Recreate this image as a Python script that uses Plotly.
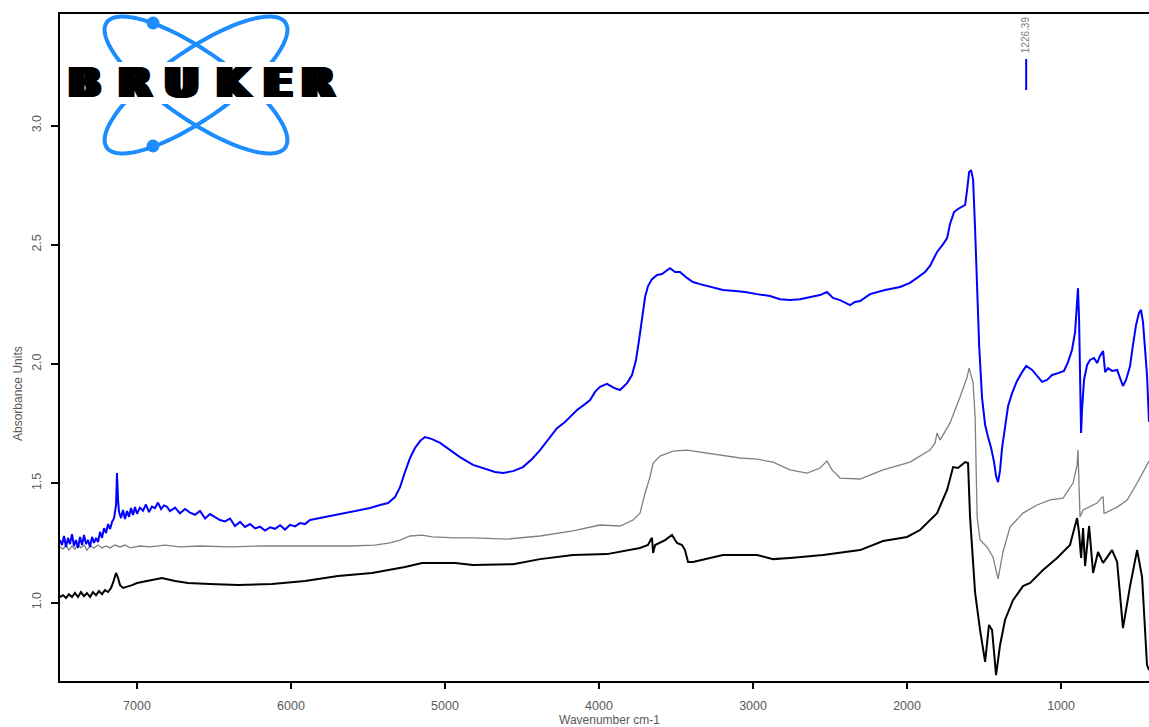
import math
import plotly.graph_objects as go

# ---- spectra: wavenumber (cm-1) and absorbance for each sample ----
blue_wn = [7500, 7487, 7474, 7461, 7448, 7435, 7422, 7409, 7396, 7383, 7370, 7357, 7344, 7331, 7318,
           7305, 7292, 7279, 7266, 7253, 7240, 7227, 7214, 7201, 7188, 7175, 7162, 7149, 7136, 7130,
           7123, 7117, 7104, 7091, 7078, 7065, 7052, 7039, 7026, 7013, 7000, 6981, 6961, 6942, 6922,
           6903, 6883, 6864, 6844, 6825, 6805, 6786, 6753, 6721, 6688, 6656, 6623, 6591, 6558, 6526,
           6494, 6461, 6429, 6396, 6364, 6331, 6299, 6266, 6234, 6201, 6169, 6136, 6104, 6071, 6039,
           6006, 5974, 5942, 5909, 5877, 5812, 5747, 5682, 5617, 5552, 5487, 5422, 5370, 5325, 5292,
           5260, 5227, 5195, 5162, 5130, 5084, 5032, 4968, 4903, 4818, 4740, 4675, 4623, 4558, 4494,
           4435, 4383, 4331, 4273, 4221, 4143, 4091, 4058, 4026, 3994, 3948, 3903, 3864, 3818, 3786,
           3760, 3740, 3721, 3701, 3682, 3656, 3623, 3591, 3565, 3539, 3506, 3474, 3429, 3390, 3344,
           3279, 3195, 3116, 3052, 2974, 2890, 2825, 2760, 2695, 2630, 2565, 2520, 2481, 2435, 2403,
           2370, 2338, 2305, 2240, 2143, 2045, 1981, 1935, 1883, 1851, 1805, 1766, 1740, 1721, 1695,
           1669, 1643, 1623, 1610, 1597, 1584, 1571, 1558, 1545, 1532, 1513, 1493, 1474, 1454, 1435,
           1422, 1409, 1396, 1383, 1364, 1344, 1318, 1286, 1253, 1226, 1188, 1156, 1123, 1091, 1058,
           1019, 981, 955, 929, 909, 896, 890, 883, 877, 870, 864, 851, 831, 812, 786,
           766, 747, 727, 714, 695, 669, 636, 617, 598, 578, 552, 533, 513, 494, 481,
           468, 455, 442, 429]
blue_abs = [1.262, 1.241, 1.279, 1.233, 1.271, 1.245, 1.287, 1.237, 1.262, 1.229, 1.275, 1.241, 1.283, 1.245, 1.262,
            1.233, 1.275, 1.250, 1.271, 1.254, 1.296, 1.271, 1.312, 1.291, 1.329, 1.308, 1.338, 1.354, 1.409, 1.543,
            1.430, 1.380, 1.354, 1.388, 1.350, 1.384, 1.359, 1.396, 1.367, 1.400, 1.372, 1.398, 1.385, 1.411, 1.379,
            1.402, 1.396, 1.419, 1.392, 1.407, 1.401, 1.383, 1.398, 1.374, 1.392, 1.377, 1.368, 1.384, 1.352, 1.371,
            1.358, 1.346, 1.340, 1.352, 1.321, 1.338, 1.317, 1.329, 1.311, 1.318, 1.302, 1.315, 1.309, 1.324, 1.306,
            1.326, 1.319, 1.333, 1.329, 1.346, 1.354, 1.363, 1.371, 1.380, 1.388, 1.396, 1.409, 1.417, 1.442, 1.484,
            1.547, 1.606, 1.648, 1.677, 1.694, 1.685, 1.669, 1.639, 1.610, 1.577, 1.560, 1.547, 1.543, 1.551, 1.568,
            1.602, 1.639, 1.681, 1.731, 1.757, 1.807, 1.832, 1.849, 1.883, 1.904, 1.917, 1.900, 1.891, 1.920, 1.954,
            2.017, 2.101, 2.193, 2.281, 2.327, 2.356, 2.373, 2.377, 2.390, 2.402, 2.386, 2.386, 2.361, 2.344, 2.335,
            2.323, 2.310, 2.306, 2.302, 2.293, 2.285, 2.272, 2.268, 2.272, 2.281, 2.289, 2.302, 2.277, 2.268, 2.256,
            2.247, 2.260, 2.264, 2.293, 2.310, 2.323, 2.340, 2.361, 2.386, 2.411, 2.470, 2.503, 2.528, 2.587, 2.637,
            2.650, 2.658, 2.667, 2.730, 2.805, 2.813, 2.772, 2.562, 2.268, 2.080, 1.858, 1.744, 1.694, 1.648, 1.589,
            1.530, 1.505, 1.555, 1.648, 1.744, 1.824, 1.878, 1.929, 1.966, 1.992, 1.975, 1.950, 1.925, 1.933, 1.954,
            1.962, 1.971, 2.008, 2.059, 2.134, 2.268, 2.318, 2.185, 1.933, 1.711, 1.807, 1.933, 1.996, 2.017, 2.025,
            2.004, 2.034, 2.055, 1.966, 1.983, 1.971, 1.975, 1.941, 1.908, 1.933, 1.992, 2.080, 2.164, 2.214, 2.227,
            2.176, 2.080, 1.954, 1.757]

gray_wn = [7500, 7480, 7461, 7442, 7422, 7403, 7383, 7364, 7344, 7325, 7305, 7279, 7253, 7227, 7201,
           7175, 7143, 7110, 7078, 7045, 6981, 6916, 6818, 6721, 6591, 6396, 6201, 6006, 5812, 5617,
           5455, 5357, 5292, 5227, 5149, 5084, 4935, 4818, 4597, 4383, 4169, 3994, 3864, 3779, 3734,
           3701, 3669, 3649, 3604, 3519, 3429, 3299, 3084, 2974, 2870, 2760, 2649, 2565, 2520, 2487,
           2435, 2305, 2156, 1981, 1851, 1818, 1805, 1786, 1721, 1656, 1610, 1597, 1571, 1558, 1545,
           1526, 1481, 1442, 1409, 1377, 1331, 1247, 1156, 1071, 987, 922, 896, 890, 883, 877,
           857, 766, 734, 727, 721, 714, 636, 571, 506, 429]
gray_abs = [1.233, 1.224, 1.241, 1.220, 1.237, 1.224, 1.245, 1.229, 1.241, 1.220, 1.237, 1.229, 1.241, 1.229, 1.237,
            1.229, 1.241, 1.233, 1.241, 1.229, 1.237, 1.233, 1.241, 1.233, 1.237, 1.233, 1.237, 1.237, 1.237, 1.237,
            1.241, 1.250, 1.262, 1.279, 1.283, 1.275, 1.271, 1.271, 1.266, 1.279, 1.300, 1.325, 1.321, 1.346, 1.375,
            1.459, 1.526, 1.585, 1.614, 1.635, 1.639, 1.627, 1.606, 1.601, 1.589, 1.556, 1.543, 1.564, 1.593, 1.556,
            1.522, 1.518, 1.556, 1.589, 1.639, 1.669, 1.711, 1.681, 1.753, 1.862, 1.945, 1.983, 1.920, 1.778, 1.359,
            1.262, 1.233, 1.191, 1.099, 1.212, 1.317, 1.375, 1.409, 1.430, 1.438, 1.501, 1.576, 1.639, 1.514, 1.359,
            1.388, 1.417, 1.442, 1.442, 1.375, 1.375, 1.400, 1.430, 1.501, 1.593]

black_wn = [7500, 7480, 7461, 7442, 7422, 7403, 7383, 7364, 7344, 7325, 7305, 7286, 7266, 7247, 7227,
            7208, 7188, 7169, 7156, 7143, 7136, 7123, 7110, 7091, 7065, 7032, 7000, 6968, 6916, 6838,
            6753, 6669, 6526, 6344, 6123, 5909, 5695, 5474, 5260, 5149, 4935, 4818, 4558, 4383, 4169,
            3948, 3734, 3682, 3662, 3656, 3649, 3636, 3571, 3526, 3506, 3494, 3461, 3442, 3422, 3390,
            3279, 3195, 2974, 2870, 2760, 2546, 2305, 2156, 2000, 1916, 1805, 1740, 1701, 1669, 1623,
            1604, 1591, 1558, 1526, 1493, 1468, 1448, 1422, 1396, 1364, 1312, 1247, 1201, 1117, 1026,
            942, 896, 883, 870, 857, 844, 818, 792, 760, 727, 669, 636, 598, 552, 506,
            474, 442, 429]
black_abs = [1.023, 1.031, 1.019, 1.035, 1.023, 1.040, 1.023, 1.044, 1.027, 1.040, 1.023, 1.044, 1.031, 1.048, 1.035,
             1.052, 1.044, 1.061, 1.082, 1.111, 1.124, 1.103, 1.073, 1.061, 1.065, 1.073, 1.082, 1.086, 1.094, 1.103,
             1.090, 1.082, 1.078, 1.073, 1.078, 1.090, 1.111, 1.124, 1.149, 1.166, 1.166, 1.157, 1.161, 1.182, 1.199,
             1.203, 1.229, 1.241, 1.266, 1.271, 1.208, 1.241, 1.262, 1.283, 1.262, 1.250, 1.241, 1.220, 1.170, 1.170,
             1.187, 1.199, 1.199, 1.182, 1.187, 1.199, 1.220, 1.258, 1.275, 1.304, 1.375, 1.472, 1.568, 1.564, 1.589,
             1.585, 1.359, 1.040, 0.885, 0.751, 0.906, 0.885, 0.696, 0.822, 0.927, 1.010, 1.069, 1.082, 1.136, 1.187,
             1.241, 1.354, 1.291, 1.187, 1.312, 1.153, 1.321, 1.124, 1.212, 1.166, 1.220, 1.170, 0.893, 1.069, 1.220,
             1.107, 0.738, 0.717]

x_ticks = [7000, 6000, 5000, 4000, 3000, 2000, 1000]
y_ticks = [1.0, 1.5, 2.0, 2.5, 3.0]
y_tick_text = ["1.0", "1.5", "2.0", "2.5", "3.0"]

peak_wn = 1226.39
peak_label = "1226.39"
peak_marker = [3.149, 3.279]

x_range = [7500, 429]
y_range = [0.671, 3.4675]

x_title = "Wavenumber cm-1"
y_title = "Absorbance Units"
logo_text = "BRUKER"

# ---- page geometry ----
W, H = 1149, 727
ML, MR, MT, MB = 60, 0, 14, 46
PW, PH = W - ML - MR, H - MT - MB

TICK_FONT = dict(family="Liberation Sans, Arial, sans-serif", size=12.5, color="#5a5a5a")
TITLE_FONT = dict(family="Liberation Sans, Arial, sans-serif", size=12, color="#5a5a5a")
LOGO_BLUE = "#1c8cff"


def to_paper(px, py):
    """Page pixel position -> paper fraction of the plotting area."""
    return (px - ML) / PW, (H - MB - py) / PH


def ellipse_path(cx, cy, a, b, ang_deg, n=160):
    th = math.radians(ang_deg)
    pts = []
    for i in range(n):
        t = 2 * math.pi * i / n
        x = cx + a * math.cos(t) * math.cos(th) - b * math.sin(t) * math.sin(th)
        y = cy + a * math.cos(t) * math.sin(th) + b * math.sin(t) * math.cos(th)
        u, v = to_paper(x, y)
        pts.append(f"{u:.5f},{v:.5f}")
    return "M" + " L".join(pts) + " Z"


fig = go.Figure()

fig.add_trace(go.Scatter(x=black_wn, y=black_abs, mode="lines",
                         line=dict(color="#000000", width=2), showlegend=False))
fig.add_trace(go.Scatter(x=gray_wn, y=gray_abs, mode="lines",
                         line=dict(color="#808080", width=1.3), showlegend=False))
fig.add_trace(go.Scatter(x=blue_wn, y=blue_abs, mode="lines",
                         line=dict(color="#0000ff", width=2), showlegend=False))

shapes = []
# peak pick marker
shapes.append(dict(type="line", xref="x", yref="y", x0=peak_wn, x1=peak_wn,
                   y0=peak_marker[0], y1=peak_marker[1],
                   line=dict(color="#0000ff", width=2)))

# logo: two crossed orbits, two electrons, white band behind the lettering
LC = (196, 85)
shapes.append(dict(type="path", xref="paper", yref="paper",
                   path=ellipse_path(LC[0], LC[1], 109, 34, 35),
                   line=dict(color=LOGO_BLUE, width=4)))
shapes.append(dict(type="path", xref="paper", yref="paper",
                   path=ellipse_path(LC[0], LC[1], 109, 34, -35),
                   line=dict(color=LOGO_BLUE, width=4)))
for ex, ey in [(153, 23), (153, 146)]:
    x0, y0 = to_paper(ex - 6.5, ey + 6.5)
    x1, y1 = to_paper(ex + 6.5, ey - 6.5)
    shapes.append(dict(type="circle", xref="paper", yref="paper", x0=x0, y0=y0, x1=x1, y1=y1,
                       fillcolor=LOGO_BLUE, line=dict(color=LOGO_BLUE, width=0)))
bx0, by0 = to_paper(62, 104)
bx1, by1 = to_paper(334, 62)
shapes.append(dict(type="rect", xref="paper", yref="paper", x0=bx0, y0=by0, x1=bx1, y1=by1,
                   fillcolor="white", line=dict(width=0)))

annotations = []
# heavy, extended lettering: bold face thickened sideways with text shadows
wide_shadow = ", ".join(f"{d}px 0 0 #000" for d in (1, -1, 2, -2, 3, -3, 4, -4))
letter_centres = [84, 135, 181, 234, 278, 318]
for ch, cx in zip(logo_text, letter_centres):
    ax, ay = to_paper(cx, 83)
    annotations.append(dict(text=ch, x=ax, y=ay, xref="paper", yref="paper",
                            xanchor="center", yanchor="middle", showarrow=False,
                            font=dict(family="DejaVu Sans", size=41, weight="bold", color="#000000",
                                      shadow=wide_shadow)))

# peak label
_, ly = to_paper(0, 35)
annotations.append(dict(text=peak_label, x=peak_wn, xref="x", y=ly, yref="paper",
                        textangle=-90, showarrow=False, xanchor="center", yanchor="middle",
                        font=dict(family="Liberation Sans, Arial, sans-serif", size=10, color="#808080")))

# axis titles
tx, ty = to_paper(609, 720)
annotations.append(dict(text=x_title, x=tx, y=ty, xref="paper", yref="paper",
                        showarrow=False, xanchor="center", yanchor="middle", font=TITLE_FONT))
tx, ty = to_paper(18, 394)
annotations.append(dict(text=y_title, x=tx, y=ty, xref="paper", yref="paper", textangle=-90,
                        showarrow=False, xanchor="center", yanchor="middle", font=TITLE_FONT))

fig.update_layout(
    width=W, height=H,
    margin=dict(l=ML, r=MR, t=MT, b=MB, pad=0),
    paper_bgcolor="white", plot_bgcolor="white",
    shapes=shapes, annotations=annotations,
    showlegend=False,
    xaxis=dict(range=x_range, tickvals=x_ticks, ticks="outside", ticklen=6, tickwidth=1.5,
               tickcolor="#000", showline=True, linecolor="#000", linewidth=2, mirror=True,
               showgrid=False, zeroline=False, tickfont=TICK_FONT, ticklabelstandoff=6),
    yaxis=dict(range=y_range, tickvals=y_ticks, ticktext=y_tick_text, tickangle=-90,
               ticks="outside", ticklen=7, tickwidth=1.5, tickcolor="#000",
               showline=True, linecolor="#000", linewidth=2, mirror=False,
               showgrid=False, zeroline=False, tickfont=TICK_FONT, ticklabelstandoff=5),
)

fig.write_html("out.html", config={"displayModeBar": False})
